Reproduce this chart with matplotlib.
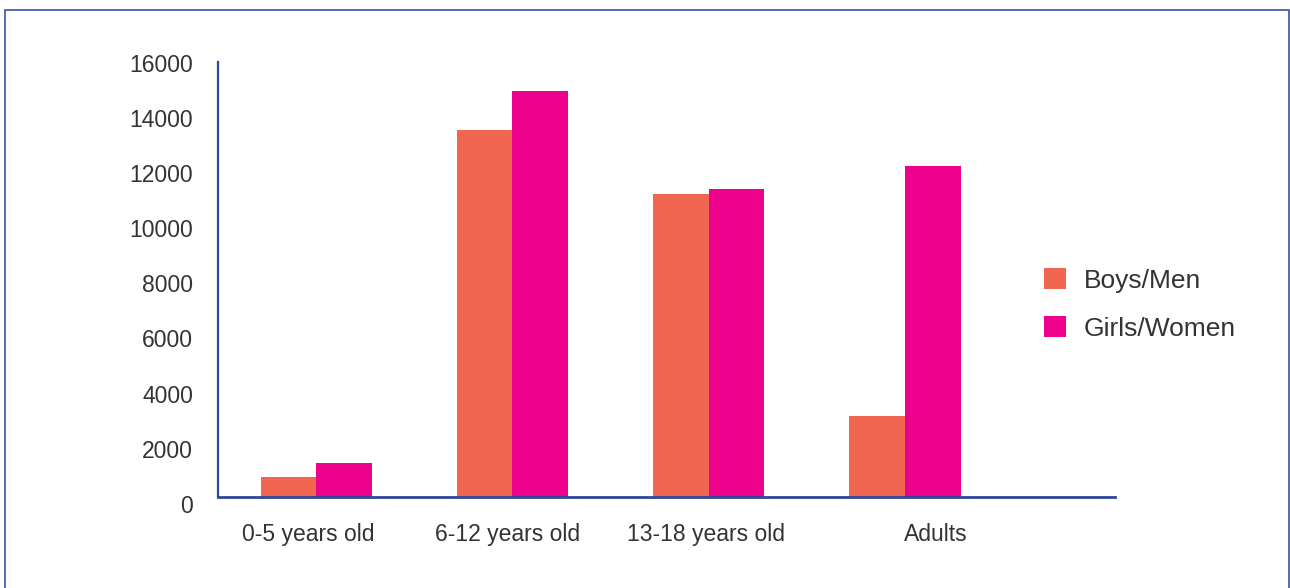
import numpy as np
import matplotlib
matplotlib.use('Agg')
import matplotlib.pyplot as plt
import matplotlib.transforms as mtransforms
from matplotlib.patches import Rectangle

# data
categories = ['0-5 years old', '6-12 years old', '13-18 years old', 'Adults']
boys_men = [750, 13500, 11150, 2980]
girls_women = [1250, 14900, 11300, 12150]
yticks = [0, 2000, 4000, 6000, 8000, 10000, 12000, 14000, 16000]

boys_color = '#F16651'
girls_color = '#EC008C'
axis_color = '#2E479A'
text_color = '#333333'

plt.rcParams['font.family'] = ['Liberation Sans', 'DejaVu Sans']

fig = plt.figure(figsize=(12.9, 5.88), dpi=100)
ax = fig.add_axes([218 / 1290, 91 / 588, 897 / 1290, 435.5 / 588])

# frame round the whole picture (open at the bottom edge)
fig.add_artist(Rectangle((4.5 / 1290, -0.05), 1284.5 / 1290, 1.05 - 10.5 / 588,
                         transform=fig.transFigure, fill=False,
                         edgecolor='#3853A4', linewidth=1.2))

x = np.arange(len(categories))
w = 0.283
ax.bar(x - w / 2, boys_men, w, color=boys_color, label='Boys/Men', zorder=1)
ax.bar(x + w / 2, girls_women, w, color=girls_color, label='Girls/Women', zorder=1)

ax.set_xlim(-0.5, 4.07)
ax.set_ylim(0, 16000)

for side in ['top', 'right']:
    ax.spines[side].set_visible(False)
ax.spines['left'].set_color(axis_color)
ax.spines['left'].set_linewidth(1.6)
ax.spines['bottom'].set_color(axis_color)
ax.spines['bottom'].set_linewidth(2.0)
ax.spines['bottom'].set_zorder(3)

ax.set_yticks(yticks)
ax.set_yticklabels([str(v) for v in yticks])
ax.set_xticks(x)
ax.set_xticklabels(categories)
ax.tick_params(axis='both', length=0, labelsize=16.5, labelcolor=text_color)
ax.tick_params(axis='y', pad=18)
ax.tick_params(axis='x', pad=19)

# nudge labels to where they sit in the reference
for lab, v in zip(ax.get_yticklabels(), yticks):
    dy_px = 7 - 6 * v / 16000
    lab.set_transform(lab.get_transform() +
                      mtransforms.ScaledTranslation(0, -dy_px / 100, fig.dpi_scale_trans))
label_shift_px = [-8, -5, -3, 31]
for lab, dx in zip(ax.get_xticklabels(), label_shift_px):
    lab.set_transform(lab.get_transform() +
                      mtransforms.ScaledTranslation(dx / 100, 0, fig.dpi_scale_trans))

leg = ax.legend(loc='upper left', bbox_to_anchor=(1044 / 1290, 1 - 268 / 588),
                bbox_transform=fig.transFigure, frameon=False, fontsize=19,
                handlelength=0.83, handleheight=0.83, handletextpad=0.68,
                labelspacing=0.9, borderpad=0, borderaxespad=0)
for t in leg.get_texts():
    t.set_color(text_color)

fig.savefig('out.png', dpi=100)
